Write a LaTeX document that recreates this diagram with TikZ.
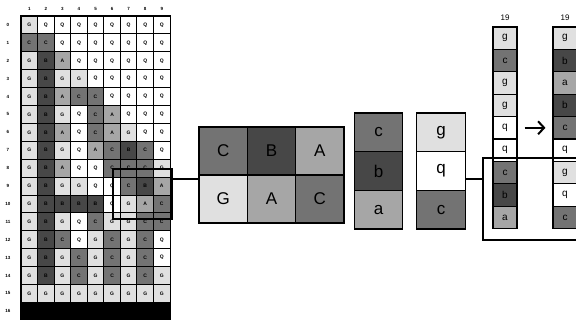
\documentclass[tikz,border=0pt]{standalone}
\usepackage{fontspec}
\setmainfont{Liberation Sans}
\usetikzlibrary{calc,arrows.meta}
\colorlet{shL}{black!12}
\colorlet{shW}{white}
\colorlet{shM}{black!35}
\colorlet{shD}{black!55}
\colorlet{shK}{black!72}
\def\letL{G}\def\letW{Q}\def\letM{A}\def\letD{C}\def\letK{B}
\begin{document}
\begin{tikzpicture}[x=1pt,y=-1pt,
  gcell/.style={draw=black, line width=0.9pt, minimum width=16.56pt, minimum height=17.9pt, inner sep=0pt, font=\fontsize{5}{5}\selectfont\bfseries},
  lab/.style={inner sep=0pt, font=\fontsize{4.5}{5}\selectfont\bfseries},
  bigcell/.style={draw=black, line width=1.2pt, minimum width=48.33pt, minimum height=48pt, inner sep=0pt, font=\fontsize{17}{17}\selectfont},
  colcell/.style={draw=black, line width=1.2pt, minimum width=48.5pt, minimum height=38.67pt, inner sep=0pt, font=\fontsize{17}{17}\selectfont},
  stcell/.style={draw=black, line width=1.1pt, minimum width=24pt, minimum height=22.4pt, inner sep=0pt, font=\fontsize{10}{10}\selectfont},
  stlab/.style={inner sep=0pt, font=\fontsize{8}{8}\selectfont},
  thickline/.style={line width=2.5pt},
  selbox/.style={draw=black, line width=2pt, minimum width=59pt, minimum height=50pt, inner sep=0pt}
]
\useasboundingbox (0,0) rectangle (576,320);

% column labels
\foreach \ci in {1,...,9} {
  \node[lab] (cl-\ci) at ({21+(\ci-0.5)*16.56},9) {\ci};
}
% row labels
\foreach \r in {0,...,16} {
  \node[lab] (rl-\r) at (8,{16+(\r+0.5)*17.9}) {\r};
}
% grid
\foreach \r/\row in {
  0/{L,W,W,W,W,W,W,W,W},
  1/{D,D,W,W,W,W,W,W,W},
  2/{L,K,M,W,W,W,W,W,W},
  3/{L,K,L,L,W,W,W,W,W},
  4/{L,K,M,D,D,W,W,W,W},
  5/{L,K,L,W,D,M,W,W,W},
  6/{L,K,M,W,D,M,L,W,W},
  7/{L,K,L,W,M,D,K,D,W},
  8/{L,K,M,W,W,D,D,D,L},
  9/{L,K,L,L,W,W,D,K,M},
  10/{L,K,K,K,K,W,L,M,D},
  11/{L,K,L,W,D,L,L,D,D},
  12/{L,K,D,W,L,D,L,D,W},
  13/{L,K,L,D,L,D,L,D,W},
  14/{L,K,L,D,L,D,L,D,L},
  15/{L,L,L,L,L,L,L,L,L}} {
  \foreach \cl [count=\ci] in \row {
    \node[gcell, fill=sh\cl] (g-\r-\ci) at ({21+(\ci-0.5)*16.56},{16+(\r+0.5)*17.9}) {\csname let\cl\endcsname};
  }
}
\foreach \ci in {1,...,9} {
  \node[gcell, fill=black] (g-16-\ci) at ({21+(\ci-0.5)*16.56},{16+16.5*17.9}) {};
}
\draw[line width=1.3pt] (g-0-1.north west) rectangle (g-16-9.south east);

% selection box
\node[selbox] (sel) at (142.5,194) {};

% enlarged 2x3 block
\node[bigcell, fill=shD] (m-11) at (223.2,151) {C};
\node[bigcell, fill=shK] (m-12) at (271.5,151) {B};
\node[bigcell, fill=shM] (m-13) at (319.8,151) {A};
\node[bigcell, fill=shL] (m-21) at (223.2,199) {G};
\node[bigcell, fill=shM] (m-22) at (271.5,199) {A};
\node[bigcell, fill=shD] (m-23) at (319.8,199) {C};

% column c b a
\node[colcell, fill=shD] (a-1) at (378.5,132.3) {c};
\node[colcell, fill=shK] (a-2) at (378.5,171) {b};
\node[colcell, fill=shM] (a-3) at (378.5,209.7) {a};

% column g q c
\node[colcell, fill=shL] (b-1) at (441,132.3) {g};
\node[colcell, fill=shW] (b-2) at (441,171) {q};
\node[colcell, fill=shD] (b-3) at (441,209.7) {c};

% stacks
\node[stlab] (t1) at (505,18) {19};
\node[stlab] (t2) at (565,18) {19};
\foreach \cl/\lt [count=\i] in {L/g,D/c,L/g,L/g,W/q,W/q,D/c,K/b,M/a} {
  \node[stcell, fill=sh\cl] (s1-\i) at (505,{27+(\i-0.5)*22.4}) {\lt};
}
\foreach \cl/\lt [count=\i] in {L/g,K/b,M/a,K/b,D/c,W/q,L/g,W/q,D/c} {
  \node[stcell, fill=sh\cl] (s2-\i) at (565,{27+(\i-0.5)*22.4}) {\lt};
}
\draw[line width=2pt, -{Straight Barb[length=6pt,width=13pt,line width=2pt]}, shorten <=7pt, shorten >=7pt] (s1-5.east) -- (s2-5.west);

% big frame
\coordinate (fr) at (483,179);
\draw[thickline] (590,158) -- (483,158) -- (483,240) -- (590,240);

% connectors
\draw[thickline] (sel.east |- 0,179) -- (m-21.west |- 0,179);
\draw[thickline] (b-2.east |- fr) -- (fr);
\end{tikzpicture}
\end{document}
